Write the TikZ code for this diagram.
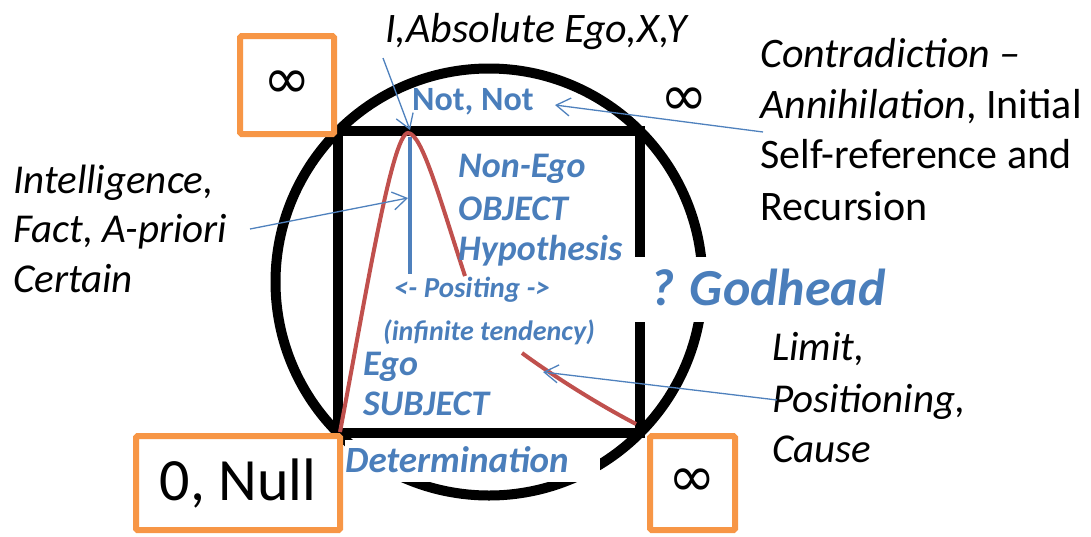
\documentclass[tikz,border=0pt]{standalone}
\usepackage{fontspec}
\setmainfont{Carlito}
\newfontfamily\djv{DejaVu Sans}
\usetikzlibrary{arrows.meta}
\definecolor{ofblue}{HTML}{4F81BD}
\definecolor{txtblue}{HTML}{4A7EBB}
\definecolor{oforange}{HTML}{F79646}
\definecolor{ofred}{HTML}{C0504D}
\begin{document}
\begin{tikzpicture}[x=1pt,y=-1pt,
  obox/.style={draw=oforange, line width=6pt, fill=white, rounded corners=1.5pt, inner sep=0pt},
  inf/.style={font=\fontsize{57}{57}\selectfont\djv},
  ktxt/.style={inner sep=0pt, anchor=base west, font=\fontsize{41}{50}\selectfont\itshape},
  kup/.style={inner sep=0pt, anchor=base west, font=\fontsize{42}{50}\selectfont},
  btxt/.style={inner sep=0pt, anchor=base west, text=txtblue, font=\fontsize{36}{43}\selectfont\bfseries\itshape},
  bsmall/.style={inner sep=0pt, anchor=base, text=txtblue, font=\fontsize{29}{34}\selectfont\bfseries\itshape},
  conn/.style={draw=ofblue, line width=1.3pt, -{Straight Barb[length=14pt,width=18pt]}},
  redc/.style={draw=ofred, line width=4pt}
]
\useasboundingbox (0,0) rectangle (1091,536);

% circle and square
\draw[line width=10pt] (489,282) circle[radius=213.5pt];
\draw[line width=10pt] (338,131) rectangle (640,433);
\fill[white] (635,257) rectangle (886,322);
\fill[white] (345,440) rectangle (600,482);

% red curve
\draw[redc] (340,432) .. controls (365,300) and (392,133) .. (408,133)
  .. controls (422,133) and (440,200) .. (465,276);
\draw[redc] (522,353) .. controls (545,370) and (590,400) .. (636,424);

% blue vertical line
\draw[ofblue, line width=4pt] (410,137) -- (410,274);

% orange boxes
\node[obox, minimum width=94pt, minimum height=98pt, inf] (inftl) at (287,85) {∞};
\node[obox, minimum width=204pt, minimum height=94pt, font=\fontsize{60}{60}\selectfont] (null) at (238,483) {0, Null};
\node[obox, minimum width=85pt, minimum height=94pt, inf] (infbr) at (692.5,483) {∞};
\node[inf, inner sep=0pt] (inftr) at (684,102) {∞};

% black texts
\node[ktxt, font=\fontsize{42}{50}\selectfont\itshape] (abs) at (385,42) {I,Absolute Ego,X,Y};
\node[ktxt] (int1) at (13,193) {Intelligence,};
\node[ktxt] (int2) at (13,242) {Fact, A-priori};
\node[ktxt] (int3) at (13,292) {Certain};
\node[kup] (con1) at (760,67) {\itshape Contradiction –};
\node[kup] (con2) at (760,118) {\textit{Annihilation}, Initial};
\node[kup] (con3) at (760,168) {Self-reference and};
\node[kup] (con4) at (760,220) {Recursion};
\node[ktxt] (lim1) at (772,360) {Limit,};
\node[ktxt] (lim2) at (772,412) {Positioning,};
\node[ktxt] (lim3) at (772,462) {Cause};

% blue texts
\node[btxt, font=\fontsize{34}{40}\selectfont\bfseries] (notnot) at (412,110) {Not, Not};
\node[btxt] (nonego) at (458,177) {Non-Ego};
\node[btxt] (object) at (458,220) {OBJECT};
\node[btxt] (hypo) at (458,260) {Hypothesis};
\node[bsmall] (posit) at (472,297) {<- Positing ->};
\node[bsmall, font=\fontsize{28}{34}\selectfont\bfseries\itshape] (tend) at (489,340) {(infinite tendency)};
\node[btxt] (ego) at (363,375) {Ego};
\node[btxt] (subj) at (363,415) {SUBJECT};
\node[btxt, font=\fontsize{37}{43}\selectfont\bfseries\itshape] (determ) at (345,472) {Determination};
\node[btxt, font=\fontsize{52}{60}\selectfont\bfseries\itshape] (god) at (650,305) {? Godhead};

% callout arrows
\coordinate (a1s) at (383,58);
\coordinate (a1e) at (410,130);
\coordinate (a2s) at (763,132);
\coordinate (a2e) at (555,105);
\coordinate (a3s) at (250,229);
\coordinate (a3e) at (408,198);
\coordinate (a4s) at (777,400);
\coordinate (a4e) at (543,372);
\draw[conn] (a1s) -- (a1e);
\draw[conn] (a2s) -- (a2e);
\draw[conn] (a3s) -- (a3e);
\draw[conn] (a4s) -- (a4e);
\end{tikzpicture}
\end{document}
